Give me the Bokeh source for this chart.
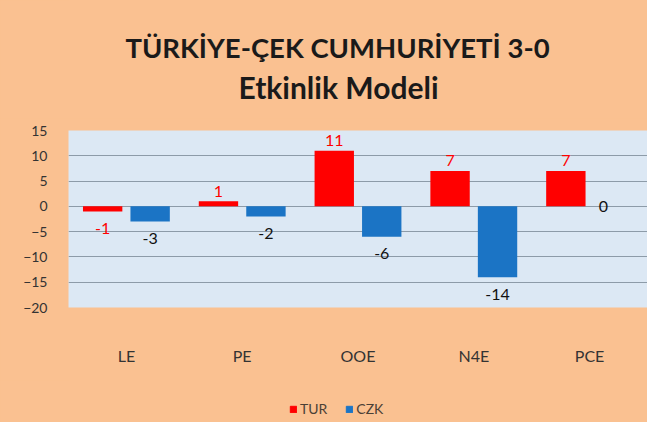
from bokeh.plotting import figure
from bokeh.layouts import column
from bokeh.models import ColumnDataSource, FixedTicker, Legend, LegendItem, Range1d, Label
from bokeh.transform import dodge
from bokeh.core.properties import value
from bokeh.embed import file_html
from bokeh.resources import INLINE

categories = ["LE", "PE", "OOE", "N4E", "PCE"]
tur = [-1, 1, 11, 7, 7]
czk = [-3, -2, -6, -14, 0]
y_ticks = [-20, -15, -10, -5, 0, 5, 10, 15]
series_names = ["TUR", "CZK"]
title_lines = ["TÜRKİYE-ÇEK CUMHURİYETİ 3-0", "Etkinlik Modeli"]

RED = "#FF0000"
BLUE = "#1B74C5"
PEACH = "#FAC191"
PLOT_BG = "#DCE8F4"
FONT = "Lato"
W = 647
LEFT = 68


def label_offset(v):
    if v > 0:
        return -10
    if v < 0:
        return 17
    return 0


def blank(height):
    f = figure(width=W, height=height, x_range=Range1d(LEFT, W), y_range=Range1d(0, height),
               output_backend="svg", toolbar_location=None,
               x_axis_location=None, y_axis_location=None,
               min_border_left=LEFT, min_border_right=0, min_border_top=0, min_border_bottom=0,
               styles={"background-color": PEACH})
    f.background_fill_color = PEACH
    f.border_fill_color = PEACH
    f.outline_line_color = None
    f.xgrid.grid_line_color = None
    f.ygrid.grid_line_color = None
    return f


# ---- title block ----
TOP_H = 118
top = blank(TOP_H)
top.add_layout(Label(x=337, y=TOP_H - 47, text=title_lines[0], text_font=FONT,
                     text_font_style="bold", text_font_size="27.5px", text_color="#1a1a1a",
                     text_align="center", text_baseline="middle"))
top.add_layout(Label(x=338, y=TOP_H - 86, text=title_lines[1], text_font=FONT,
                     text_font_style="bold", text_font_size="30px", text_color="#1a1a1a",
                     text_align="center", text_baseline="middle"))

# ---- main chart ----
src = ColumnDataSource(dict(
    cat=categories,
    tur=tur,
    czk=czk,
    tur_txt=[str(v) for v in tur],
    czk_txt=[str(v) for v in czk],
    tur_off=[label_offset(v) for v in tur],
    czk_off=[label_offset(v) for v in czk],
    czk_xoff=[-10 if v == 0 else 0 for v in czk],
))

p = figure(x_range=categories, y_range=Range1d(min(y_ticks), max(y_ticks)),
           width=W, height=262, output_backend="svg", toolbar_location=None,
           min_border_left=LEFT, min_border_right=0, min_border_top=12, min_border_bottom=73,
           styles={"background-color": PEACH})

p.background_fill_color = PLOT_BG
p.border_fill_color = PEACH
p.outline_line_color = None

r_tur = p.vbar(x=dodge("cat", -0.205, range=p.x_range), top="tur", bottom=0, width=0.34,
               source=src, fill_color=RED, line_color=None)
r_czk = p.vbar(x=dodge("cat", 0.205, range=p.x_range), top="czk", bottom=0, width=0.34,
               source=src, fill_color=BLUE, line_color=None)

p.text(x=dodge("cat", -0.205, range=p.x_range), y="tur", text="tur_txt", y_offset="tur_off",
       source=src, text_color=RED, text_font=value(FONT), text_font_size="16px",
       text_align="center", text_baseline="middle")
p.text(x=dodge("cat", 0.205, range=p.x_range), y="czk", text="czk_txt", y_offset="czk_off",
       x_offset="czk_xoff", source=src, text_color="#111111", text_font=value(FONT),
       text_font_size="16px", text_align="center", text_baseline="middle")

p.yaxis.ticker = FixedTicker(ticks=y_ticks)
for ax in (p.xaxis[0], p.yaxis[0]):
    ax.axis_line_color = None
    ax.major_tick_line_color = None
    ax.minor_tick_line_color = None
    ax.major_label_text_font = FONT
    ax.major_label_text_color = "#333333"
p.yaxis.major_label_text_font_size = "14px"
p.yaxis.major_label_standoff = 15
p.xaxis.major_label_text_font_size = "16px"
p.xaxis.major_label_standoff = 32

p.xgrid.grid_line_color = None
p.ygrid.grid_line_color = "#8D9BA8"
p.ygrid.grid_line_width = 1

# ---- legend block ----
LEG_H = 42
leg = blank(LEG_H)
nan = float("nan")
lr_tur = leg.vbar(x=[nan], top=[nan], width=1, fill_color=RED, line_color=RED)
lr_czk = leg.vbar(x=[nan], top=[nan], width=1, fill_color=BLUE, line_color=BLUE)
legend = Legend(items=[LegendItem(label=series_names[0], renderers=[lr_tur]),
                       LegendItem(label=series_names[1], renderers=[lr_czk])],
                orientation="horizontal", location=(289 - LEFT, 5),
                background_fill_alpha=0, border_line_alpha=0,
                glyph_width=8, glyph_height=8, label_standoff=3, spacing=18,
                padding=0, margin=0, label_text_font=FONT, label_text_font_size="14px",
                label_text_color="#4a4036")
leg.add_layout(legend, "center")

layout = column(top, p, leg, spacing=0, styles={"background-color": PEACH})
open("out.html", "w").write(file_html(layout, INLINE))
